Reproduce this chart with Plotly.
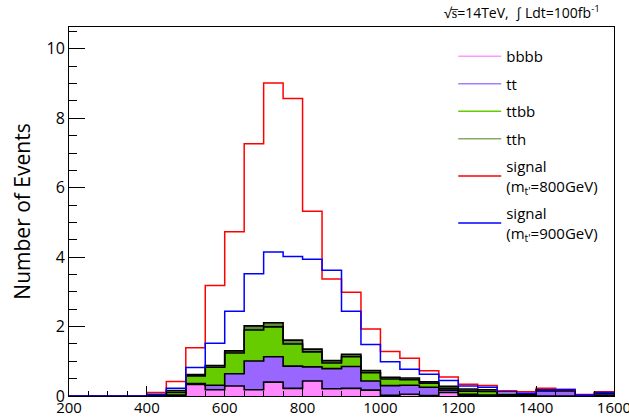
import plotly.graph_objects as go
import numpy as np

# Bin edges (GeV), 50 GeV bins from 200 to 1600
bin_low = [200, 250, 300, 350, 400, 450, 500, 550, 600, 650, 700, 750, 800, 850,
           900, 950, 1000, 1050, 1100, 1150, 1200, 1250, 1300, 1350, 1400, 1450, 1500, 1550]
bin_width = 50

# Stacked backgrounds (bottom -> top)
bbbb = [0, 0, 0, 0, 0, 0.01, 0.33, 0.18, 0.29, 0.18, 0.40, 0.22, 0.43, 0.21,
        0.22, 0.17, 0.02, 0.05, 0.01, 0.10, 0.01, 0, 0, 0, 0, 0, 0, 0.02]
tt = [0, 0, 0, 0, 0, 0.02, 0.03, 0.13, 0.35, 0.83, 0.73, 0.64, 0.41, 0.58,
      0.63, 0.26, 0.28, 0.26, 0.24, 0.07, 0.04, 0.03, 0.01, 0.03, 0.15, 0.15, 0, 0.05]
ttbb = [0, 0, 0, 0, 0.01, 0.07, 0.22, 0.52, 0.60, 0.89, 0.86, 0.64, 0.43, 0.16,
        0.28, 0.24, 0.19, 0.16, 0.12, 0.05, 0.09, 0.10, 0, 0, 0, 0, 0, 0]
tth = [0, 0, 0, 0, 0.01, 0.06, 0.04, 0.05, 0.06, 0.12, 0.12, 0.11, 0.08, 0.07,
       0.07, 0.06, 0.05, 0.05, 0.04, 0.06, 0.06, 0.05, 0.04, 0.02, 0.03, 0.03, 0.01, 0.02]

# Signals (not stacked)
signal_800 = [0, 0, 0, 0, 0.10, 0.42, 1.39, 3.18, 4.73, 7.27, 9.02, 8.57, 5.32, 3.37,
              2.99, 1.93, 1.28, 1.09, 0.73, 0.55, 0.34, 0.30, 0.15, 0.12, 0.22, 0.19, 0.04, 0.12]
signal_900 = [0, 0, 0, 0, 0.05, 0.22, 0.82, 1.52, 2.44, 3.52, 4.15, 4.02, 3.94, 3.62,
              2.44, 1.48, 0.99, 0.77, 0.63, 0.45, 0.29, 0.25, 0.12, 0.08, 0.17, 0.19, 0.03, 0.10]

x_ticks = [200, 400, 600, 800, 1000, 1200, 1400, 1600]
y_ticks = [0, 2, 4, 6, 8, 10]

bg_names = ["bbbb", "tt", "ttbb", "tth"]
bg_values = [bbbb, tt, ttbb, tth]
bg_colors = ["#ff88ff", "#9966ff", "#66cc00", "#5e8c38"]
legend_line_colors = ["#ff99ff", "#a080ff", "#66cc00", "#88aa66"]

edges = bin_low + [bin_low[-1] + bin_width]

def step_y(vals):
    v = list(vals)
    return v + [v[-1]]

FONT = "Open Sans"
fig = go.Figure()

cum = np.zeros(len(bin_low))
for i, (name, vals, col) in enumerate(zip(bg_names, bg_values, bg_colors)):
    cum = cum + np.array(vals)
    fig.add_trace(go.Scatter(
        x=edges, y=step_y(cum), mode="lines", line_shape="hv",
        line=dict(color="black", width=1.6),
        fill="tozeroy" if i == 0 else "tonexty", fillcolor=col,
        showlegend=False, hoverinfo="skip"))

fig.add_trace(go.Scatter(x=edges, y=step_y(signal_800), mode="lines", line_shape="hv",
                         line=dict(color="#ff0000", width=1.5), showlegend=False))
fig.add_trace(go.Scatter(x=edges, y=step_y(signal_900), mode="lines", line_shape="hv",
                         line=dict(color="#0000ff", width=1.5), showlegend=False))

# Legend entries (line samples, as in the original)
legend_labels = bg_names + ["signal<br>(m<sub>t'</sub>=800GeV)", "signal<br>(m<sub>t'</sub>=900GeV)"]
legend_cols = legend_line_colors + ["#ff0000", "#0000ff"]
for k, (lab, col) in enumerate(zip(legend_labels, legend_cols)):
    fig.add_trace(go.Scatter(x=[None], y=[None], mode="lines", name=lab,
                             legendgroup="g%d" % k,
                             line=dict(color=col, width=1.5)))

fig.update_layout(
    width=629, height=418,
    margin=dict(l=69, r=15, t=27, b=22),
    paper_bgcolor="white", plot_bgcolor="white",
    font=dict(family=FONT, color="black", size=16),
    showlegend=True,
    legend=dict(x=0.705, y=0.965, xanchor="left", yanchor="top",
                bgcolor="rgba(0,0,0,0)", font=dict(size=15, family=FONT),
                traceorder="grouped", tracegroupgap=5, itemwidth=43),
    xaxis=dict(range=[200, 1600], tickvals=x_ticks, ticktext=[str(v) for v in x_ticks],
               ticks="inside", ticklen=10, tickwidth=1, tickcolor="black",
               minor=dict(dtick=50, ticks="inside", ticklen=5, tickcolor="black"),
               showline=True, linecolor="black", linewidth=1, mirror=True,
               showgrid=False, zeroline=False, automargin=False,
               ticklabeloverflow="allow", ticklabelstandoff=-2,
               tickfont=dict(size=15, family=FONT)),
    yaxis=dict(range=[0, 10.63], tickvals=y_ticks, ticktext=[str(v) for v in y_ticks],
               ticks="inside", ticklen=16, tickwidth=1, tickcolor="black",
               minor=dict(dtick=0.5, ticks="inside", ticklen=8, tickcolor="black"),
               showline=True, linecolor="black", linewidth=1, mirror=True,
               showgrid=False, zeroline=False, automargin=False,
               tickfont=dict(size=16, family=FONT),
               title=dict(text="Number of Events", font=dict(size=21, family=FONT), standoff=10)),
    annotations=[dict(
        xref="paper", yref="paper", x=0.978, y=1.0, xanchor="right", yanchor="bottom",
        yshift=3,
        text="\u221As\u0305=14TeV,  \u222B Ldt=100fb<sup>-1</sup>",
        showarrow=False, font=dict(size=14, family=FONT))],
)

fig.write_html("out.html")
